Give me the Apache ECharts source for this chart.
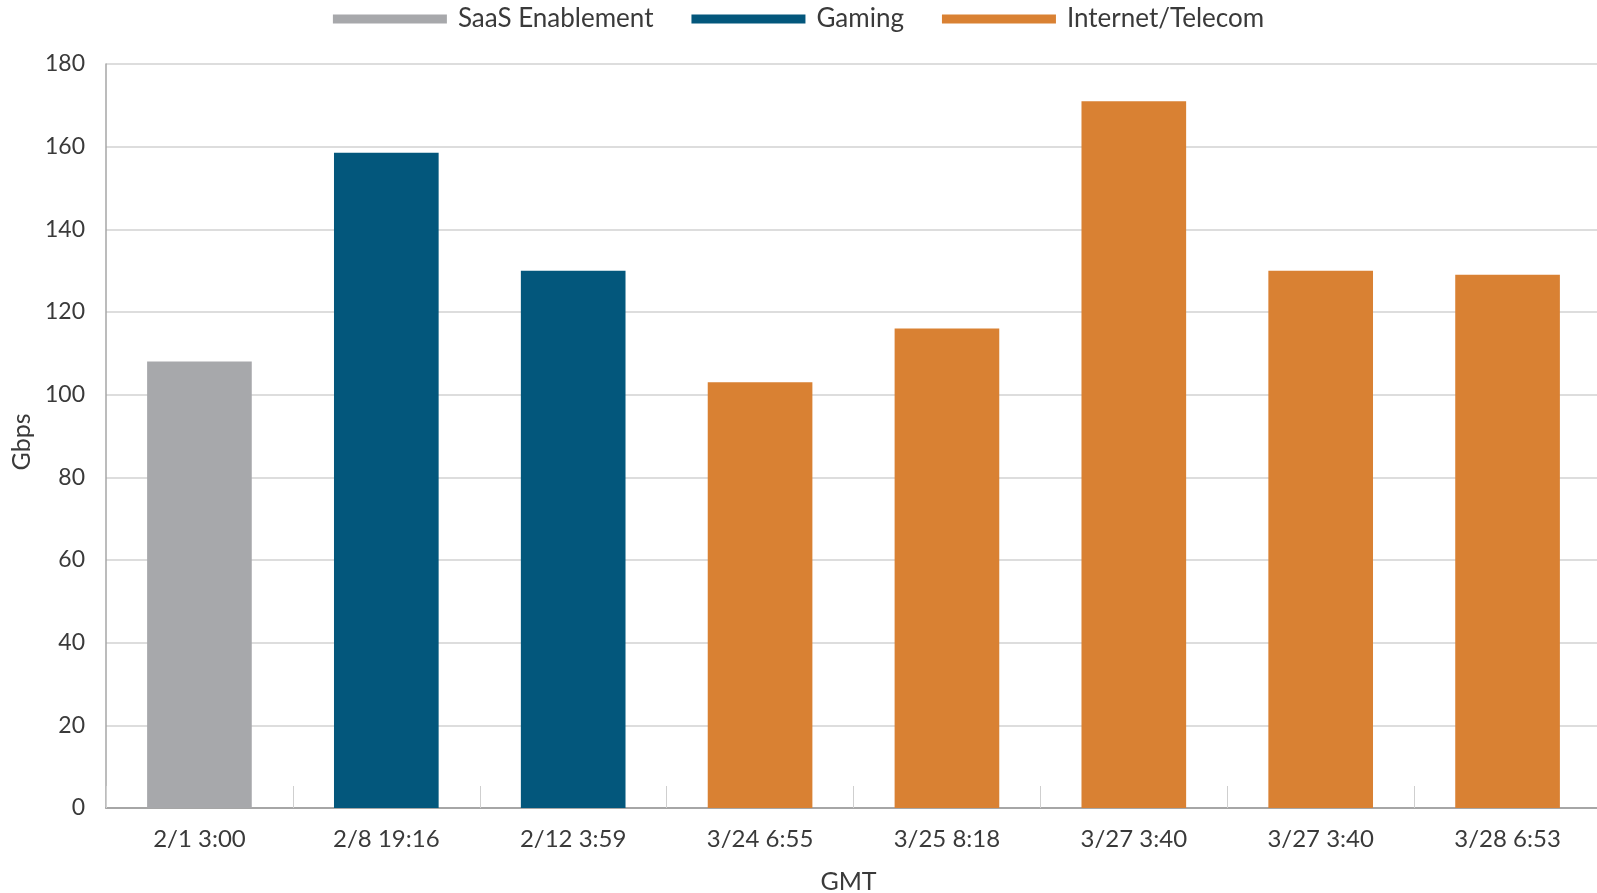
<!DOCTYPE html>
<html>
<head>
<meta charset="utf-8">
<script src="https://cdn.jsdelivr.net/npm/echarts@6/dist/echarts.min.js"></script>
<style>
html,body{margin:0;padding:0;background:#fff;}
#chart{width:1597px;height:893px;}
</style>
</head>
<body>
<div id="chart"></div>
<script>
const categories = ['2/1 3:00', '2/8 19:16', '2/12 3:59', '3/24 6:55', '3/25 8:18', '3/27 3:40', '3/27 3:40', '3/28 6:53'];
const values = [108, 158.5, 130, 103, 116, 171, 130, 129];
const groups = ['SaaS Enablement', 'Gaming', 'Gaming', 'Internet/Telecom', 'Internet/Telecom', 'Internet/Telecom', 'Internet/Telecom', 'Internet/Telecom'];
const seriesNames = ['SaaS Enablement', 'Gaming', 'Internet/Telecom'];
const seriesColors = ['#a7a8ab', '#03577c', '#d98133'];
const yTicks = [0, 20, 40, 60, 80, 100, 120, 140, 160, 180];

const FONT = 'Lato';
const TXT = '#3a3a3a';

const chart = echarts.init(document.getElementById('chart'));
chart.setOption({
  animation: false,
  color: seriesColors,
  legend: {
    top: 1,
    left: 'center',
    icon: 'rect',
    itemWidth: 114,
    itemHeight: 9,
    itemGap: 38,
    textStyle: { fontFamily: FONT, fontSize: 26, color: TXT, padding: [0, 0, 0, 6] },
    data: seriesNames
  },
  grid: { left: 106, top: 64, right: -4, bottom: 85, containLabel: false, outerBoundsMode: 'none' },
  xAxis: {
    type: 'category',
    data: categories,
    name: 'GMT',
    nameLocation: 'middle',
    nameGap: 61,
    nameTextStyle: { fontFamily: FONT, fontSize: 25, color: TXT, padding: [0, 10, 0, 0] },
    axisLine: { lineStyle: { color: '#a6a6a6', width: 2 } },
    axisTick: { show: true, inside: true, length: 22, interval: 0, lineStyle: { color: '#cfcfcf', width: 1 } },
    axisLabel: { fontFamily: FONT, fontSize: 24, color: TXT, margin: 19, interval: 0 }
  },
  yAxis: {
    type: 'value',
    min: yTicks[0],
    max: yTicks[yTicks.length - 1],
    interval: yTicks[1] - yTicks[0],
    name: 'Gbps',
    nameLocation: 'middle',
    nameRotate: 90,
    nameGap: 65,
    nameTextStyle: { fontFamily: FONT, fontSize: 25, color: TXT, padding: [0, 12, 0, 0] },
    axisLine: { show: true, lineStyle: { color: '#a6a6a6', width: 1.5 } },
    axisTick: { show: false },
    axisLabel: { fontFamily: FONT, fontSize: 23, color: TXT, margin: 21 },
    splitLine: { lineStyle: { color: '#d2d2d2', width: 1.5 } }
  },
  series: seriesNames.map((name, si) => ({
    name: name,
    type: 'bar',
    stack: 'all',
    barWidth: '56%',
    itemStyle: { color: seriesColors[si] },
    data: values.map((v, i) => groups[i] === name ? v : '-')
  }))
});
</script>
</body>
</html>
